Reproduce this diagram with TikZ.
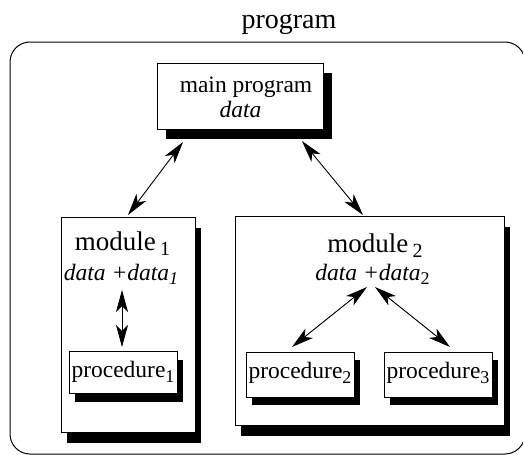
\documentclass[tikz,border=0pt]{standalone}
\usepackage{fontspec}
\setmainfont{Liberation Serif}
\usetikzlibrary{shadows,arrows.meta}
\newcommand{\fs}[1]{\fontsize{#1}{#1}\selectfont}
\tikzset{
  boxnode/.style={draw, line width=1pt, fill=white, minimum width=#1, inner sep=0pt, anchor=north west},
  shad/.style 2 args={drop shadow={shadow xshift=#1, shadow yshift=-#2, fill=black, opacity=1}},
  txt/.style={inner sep=0pt, anchor=base},
  tip/.style={Stealth[length=22pt,width=12pt,inset=6pt]},
  conn/.style={line width=0.9pt, {Stealth[length=22pt,width=12pt,inset=6pt]}-{Stealth[length=22pt,width=12pt,inset=6pt]}},
}
\begin{document}
\begin{tikzpicture}[x=1pt,y=-1pt]
\useasboundingbox (0,0) rectangle (523,455);
% outer frame
\draw[line width=1pt, rounded corners=20pt] (10,42) rectangle (525,454);
\node[txt] (title) at (289,28) {\fs{28}program};
% main program
\node[boxnode=166pt, minimum height=66pt, shad={8pt}{9pt}] (main) at (157,63) {};
\node[txt] (mt) at (246,92) {\fs{23.5}main program};
\node[txt] (md) at (240.5,117) {\fs{23.5}\itshape data};
% module 1
\node[boxnode=134pt, minimum height=215pt, shad={5pt}{10pt}] (m1) at (61,217) {};
\node[txt] (m1t) at (122.5,250) {\fs{27}module\,\raisebox{-5pt}{\fs{20}1}};
\node[txt] (m1d) at (121,280) {\fs{23.5}\itshape data +data\raisebox{-4pt}{\fs{18}1}};
\node[boxnode=108pt, minimum height=42pt, shad={5pt}{8pt}] (p1) at (69,351) {};
\node[txt] (p1t) at (123,377) {\fs{23.5}procedure\raisebox{-5pt}{\fs{18}1}};
% module 2
\node[boxnode=269pt, minimum height=209pt, shad={5pt}{10pt}] (m2) at (235,216) {};
\node[txt] (m2t) at (375,252) {\fs{27}module\,\raisebox{-5pt}{\fs{20}2}};
\node[txt] (m2d) at (372.5,280) {\fs{23.5}\itshape data +data\raisebox{-4pt}{\fs{18}\upshape 2}};
\node[boxnode=108pt, minimum height=45pt, shad={5pt}{7pt}] (p2) at (246,352) {};
\node[txt] (p2t) at (300,378) {\fs{23.5}procedure\raisebox{-5pt}{\fs{18}2}};
\node[boxnode=108pt, minimum height=45pt, shad={5pt}{7pt}] (p3) at (384,352) {};
\node[txt] (p3t) at (438,378) {\fs{23.5}procedure\raisebox{-5pt}{\fs{18}3}};
% connector endpoints
\coordinate (a1s) at (183,142);
\coordinate (a1e) at (128,215);
\coordinate (a2s) at (302,141);
\coordinate (a2e) at (363,215);
\coordinate (a3s) at (122,290);
\coordinate (a3e) at (122,347);
\coordinate (a4s) at (367,287);
\coordinate (a4e) at (292,347);
\coordinate (a5s) at (375,287);
\coordinate (a5e) at (450,347);
\draw[conn] (a1s) -- (a1e);
\draw[conn] (a2s) -- (a2e);
\draw[conn] (a3s) -- (a3e);
\draw[conn] (a4s) -- (a4e);
\draw[conn] (a5s) -- (a5e);
\end{tikzpicture}
\end{document}
